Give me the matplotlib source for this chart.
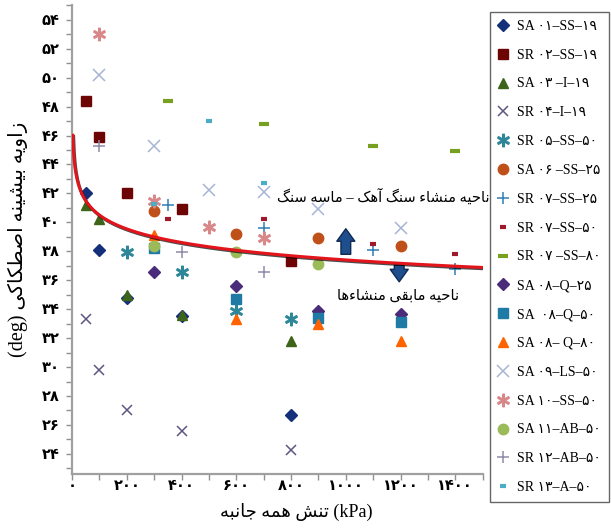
import matplotlib
matplotlib.use('Agg')
import matplotlib.pyplot as plt
import matplotlib.patheffects as pe
from matplotlib.ticker import MultipleLocator, FixedLocator
import numpy as np

plt.rcParams['font.family'] = ['Liberation Serif', 'DejaVu Sans']

# matplotlib does no Arabic shaping or bidi, so shape Persian by hand
# (isolated, final, initial, medial)
FORMS = {
    'ء': ('\uFE80', None, None, None),
    'آ': ('\uFE81', '\uFE82', None, None),
    'ا': ('\uFE8D', '\uFE8E', None, None),
    'ب': ('\uFE8F', '\uFE90', '\uFE91', '\uFE92'),
    'ت': ('\uFE95', '\uFE96', '\uFE97', '\uFE98'),
    'ج': ('\uFE9D', '\uFE9E', '\uFE9F', '\uFEA0'),
    'ح': ('\uFEA1', '\uFEA2', '\uFEA3', '\uFEA4'),
    'ز': ('\uFEAF', '\uFEB0', None, None),
    'س': ('\uFEB1', '\uFEB2', '\uFEB3', '\uFEB4'),
    'ش': ('\uFEB5', '\uFEB6', '\uFEB7', '\uFEB8'),
    'ص': ('\uFEB9', '\uFEBA', '\uFEBB', '\uFEBC'),
    'ط': ('\uFEC1', '\uFEC2', '\uFEC3', '\uFEC4'),
    'ق': ('\uFED5', '\uFED6', '\uFED7', '\uFED8'),
    'ک': ('\uFB8E', '\uFB8F', '\uFB90', '\uFB91'),
    'گ': ('\uFB92', '\uFB93', '\uFB94', '\uFB95'),
    'م': ('\uFEE1', '\uFEE2', '\uFEE3', '\uFEE4'),
    'ن': ('\uFEE5', '\uFEE6', '\uFEE7', '\uFEE8'),
    'ه': ('\uFEE9', '\uFEEA', '\uFEEB', '\uFEEC'),
    'و': ('\uFEED', '\uFEEE', None, None),
    'ی': ('\uFBFC', '\uFBFD', '\uFBFE', '\uFBFF'),
}


def shape(text):
    out = []
    for i, ch in enumerate(text):
        if ch not in FORMS:
            out.append(ch)
            continue
        iso, fin, ini, med = FORMS[ch]
        prev = text[i - 1] if i > 0 else ''
        nxt = text[i + 1] if i < len(text) - 1 else ''
        jp = fin is not None and prev in FORMS and FORMS[prev][2] is not None
        jn = ini is not None and nxt in FORMS and FORMS[nxt][1] is not None
        if jp and jn:
            out.append(med)
        elif jp:
            out.append(fin)
        elif jn:
            out.append(ini)
        else:
            out.append(iso)
    return ''.join(out)


def fa(text):
    return shape(text)[::-1]


def fa_num(n):
    return str(n).translate(str.maketrans('0123456789', '۰۱۲۳۴۵۶۷۸۹'))


# data: confining stress (kPa) vs friction angle (deg)
sa01_x = [50, 100, 200, 400, 800]
sa01_y = [42.0, 38.1, 34.8, 33.5, 26.7]
sr02_x = [50, 100, 200, 400, 800]
sr02_y = [48.4, 45.9, 42.0, 40.9, 37.3]
sa03_x = [50, 100, 200, 400, 800]
sa03_y = [41.2, 40.2, 35.0, 33.6, 31.8]
sr04_x = [50, 100, 200, 400, 800]
sr04_y = [33.35, 29.8, 27.0, 25.6, 24.25]
sr05_x = [200, 400, 600, 800]
sr05_y = [37.95, 36.57, 33.9, 33.35]
sa06_x = [300, 600, 900, 1200]
sa06_y = [40.8, 39.2, 38.9, 38.4]
sr07a_x = [350, 700, 1100, 1400]
sr07a_y = [41.2, 39.6, 38.07, 36.8]
sr07b_x = [350, 700, 1100, 1400]
sr07b_y = [40.2, 40.2, 38.5, 37.8]
sr07c_x = [350, 700, 1100, 1400]
sr07c_y = [48.4, 46.8, 45.3, 44.95]
sa08a_x = [300, 600, 900, 1200]
sa08a_y = [36.57, 35.6, 33.9, 33.67]
sa08b_x = [300, 600, 900, 1200]
sa08b_y = [38.2, 34.67, 33.4, 33.1]
sa08c_x = [300, 600, 900, 1200]
sa08c_y = [39.15, 33.3, 32.95, 31.8]
sa09_x = [100, 300, 500, 700, 900, 1200]
sa09_y = [50.2, 45.3, 42.25, 42.1, 40.9, 39.6]
sa10_x = [100, 300, 500, 700]
sa10_y = [53.0, 41.5, 39.66, 38.9]
sa11_x = [300, 600, 900]
sa11_y = [38.4, 37.95, 37.15]
sr12_x = [100, 400, 700]
sr12_y = [45.3, 37.95, 36.57]
sr13_x = [300, 500, 700]
sr13_y = [41.3, 47.0, 42.7]

# power trend line: phi = a * s^b
trend_a = 47.5
trend_b = -0.0346

series = [
    ('SA ۰۱–SS–۱۹', sa01_x, sa01_y, 'D', '#15307A', 6),
    ('SR ۰۲–SS–۱۹', sr02_x, sr02_y, 's', '#6E0505', 7.5),
    ('SA ۰۳ –I–۱۹', sa03_x, sa03_y, '^', '#3D6418', 7.5),
    ('SR ۰۴–I–۱۹', sr04_x, sr04_y, 'x', '#5C5683', 7),
    ('SR ۰۵–SS–۵۰', sr05_x, sr05_y, '$\\ast$', '#2E8799', 9),
    ('SA ۰۶ –SS–۲۵', sa06_x, sa06_y, 'o', '#C0501A', 7.5),
    ('SR ۰۷–SS–۲۵', sr07a_x, sr07a_y, '+', '#2F7EB5', 8),
    ('SR ۰۷–SS–۵۰', sr07b_x, sr07b_y, '_', '#A0182C', 5),
    ('SR ۰۷ –SS–۸۰', sr07c_x, sr07c_y, '_', '#77A020', 7),
    ('SA ۰۸–Q–۲۵', sa08a_x, sa08a_y, 'D', '#4A2C7A', 6),
    ('SA  ۰۸–Q–۵۰', sa08b_x, sa08b_y, 's', '#1F7AA6', 7.5),
    ('SA ۰۸– Q–۸۰', sa08c_x, sa08c_y, '^', '#FF6300', 7.5),
    ('SA ۰۹–LS–۵۰', sa09_x, sa09_y, 'x', '#A8B4D4', 8),
    ('SA ۱۰–SS–۵۰', sa10_x, sa10_y, '$\\ast$', '#D9888A', 9),
    ('SA ۱۱–AB–۵۰', sa11_x, sa11_y, 'o', '#9BBB59', 7.5),
    ('SR ۱۲–AB–۵۰', sr12_x, sr12_y, '+', '#8E8AA8', 8),
    ('SR ۱۳–A–۵۰', sr13_x, sr13_y, '_', '#4BACC6', 5),
]

fig = plt.figure(figsize=(6.11, 5.28), dpi=100)
ax = fig.add_axes([0.118, 0.102, 0.672, 0.888])

for label, xs, ys, m, c, ms in series:
    if m == '_':
        ax.plot(xs, ys, ls='none', marker=m, color=c, ms=ms, mew=3, label=label)
    elif m in ('x', '+'):
        ax.plot(xs, ys, ls='none', marker=m, color=c, ms=ms, mew=1.1, label=label)
    else:
        ax.plot(xs, ys, ls='none', marker=m, color=c, ms=ms, mec=c, label=label)

s = np.linspace(2.5, 1500, 600)
ax.plot(s, trend_a * s ** trend_b, color='#E3141B', lw=2.2, zorder=5,
        path_effects=[pe.SimpleLineShadow(offset=(0.6, -0.9), shadow_color='k', alpha=0.7),
                      pe.Normal()])

arrow_style = 'simple,head_width=1.3,head_length=0.9,tail_width=0.7'
ax.annotate('', xy=(1000, 39.75), xytext=(1000, 37.6),
            arrowprops=dict(arrowstyle=arrow_style, fc='#1F4E8C', ec='#0F2A55', lw=1, mutation_scale=10))
ax.annotate('', xy=(1195, 35.7), xytext=(1195, 37.25),
            arrowprops=dict(arrowstyle=arrow_style, fc='#1F4E8C', ec='#0F2A55', lw=1, mutation_scale=10))

ax.text(1525, 41.8, fa('ناحیه منشاء سنگ آهک – ماسه سنگ'), ha='right', va='center',
        fontsize=10.5, clip_on=False)
ax.text(1190, 34.9, fa('ناحیه مابقی منشاءها'), ha='center', va='center', fontsize=10.5)

ax.set_xlim(0, 1500)
ax.set_ylim(22.6, 55)
ax.xaxis.set_major_locator(FixedLocator(range(0, 1401, 200)))
ax.xaxis.set_minor_locator(MultipleLocator(100))
ax.yaxis.set_major_locator(FixedLocator(range(24, 55, 2)))
ax.yaxis.set_minor_locator(MultipleLocator(1))
ax.set_xticklabels([fa_num(v) for v in range(0, 1401, 200)], fontsize=10.5, fontweight='bold')
ax.set_yticklabels([fa_num(v) for v in range(24, 55, 2)], fontsize=10.5, fontweight='bold')
ax.tick_params(which='both', direction='out', length=4, width=1, color='#909090')
ax.tick_params(axis='x', pad=0.5)
ax.tick_params(axis='y', pad=5)
for side in ('top', 'right'):
    ax.spines[side].set_visible(False)
for side in ('left', 'bottom'):
    ax.spines[side].set_color('#A0A0A0')
    ax.spines[side].set_linewidth(1.6)

ax.set_xlabel(fa('تنش همه جانبه') + ' (kPa)', fontsize=13)
ax.xaxis.set_label_coords(0.545, -0.062)
ax.set_ylabel('(deg) ' + fa('زاویه بیشینه اصطکاکی'), fontsize=14.5, labelpad=10)

fig.legend(loc='upper left', bbox_to_anchor=(0.802, 0.977), fontsize=10, frameon=True,
           fancybox=False, edgecolor='#404040', labelspacing=1.14, handlelength=0.8,
           handletextpad=0.6, borderpad=0.55, borderaxespad=0)

fig.savefig('out.png', dpi=100)
